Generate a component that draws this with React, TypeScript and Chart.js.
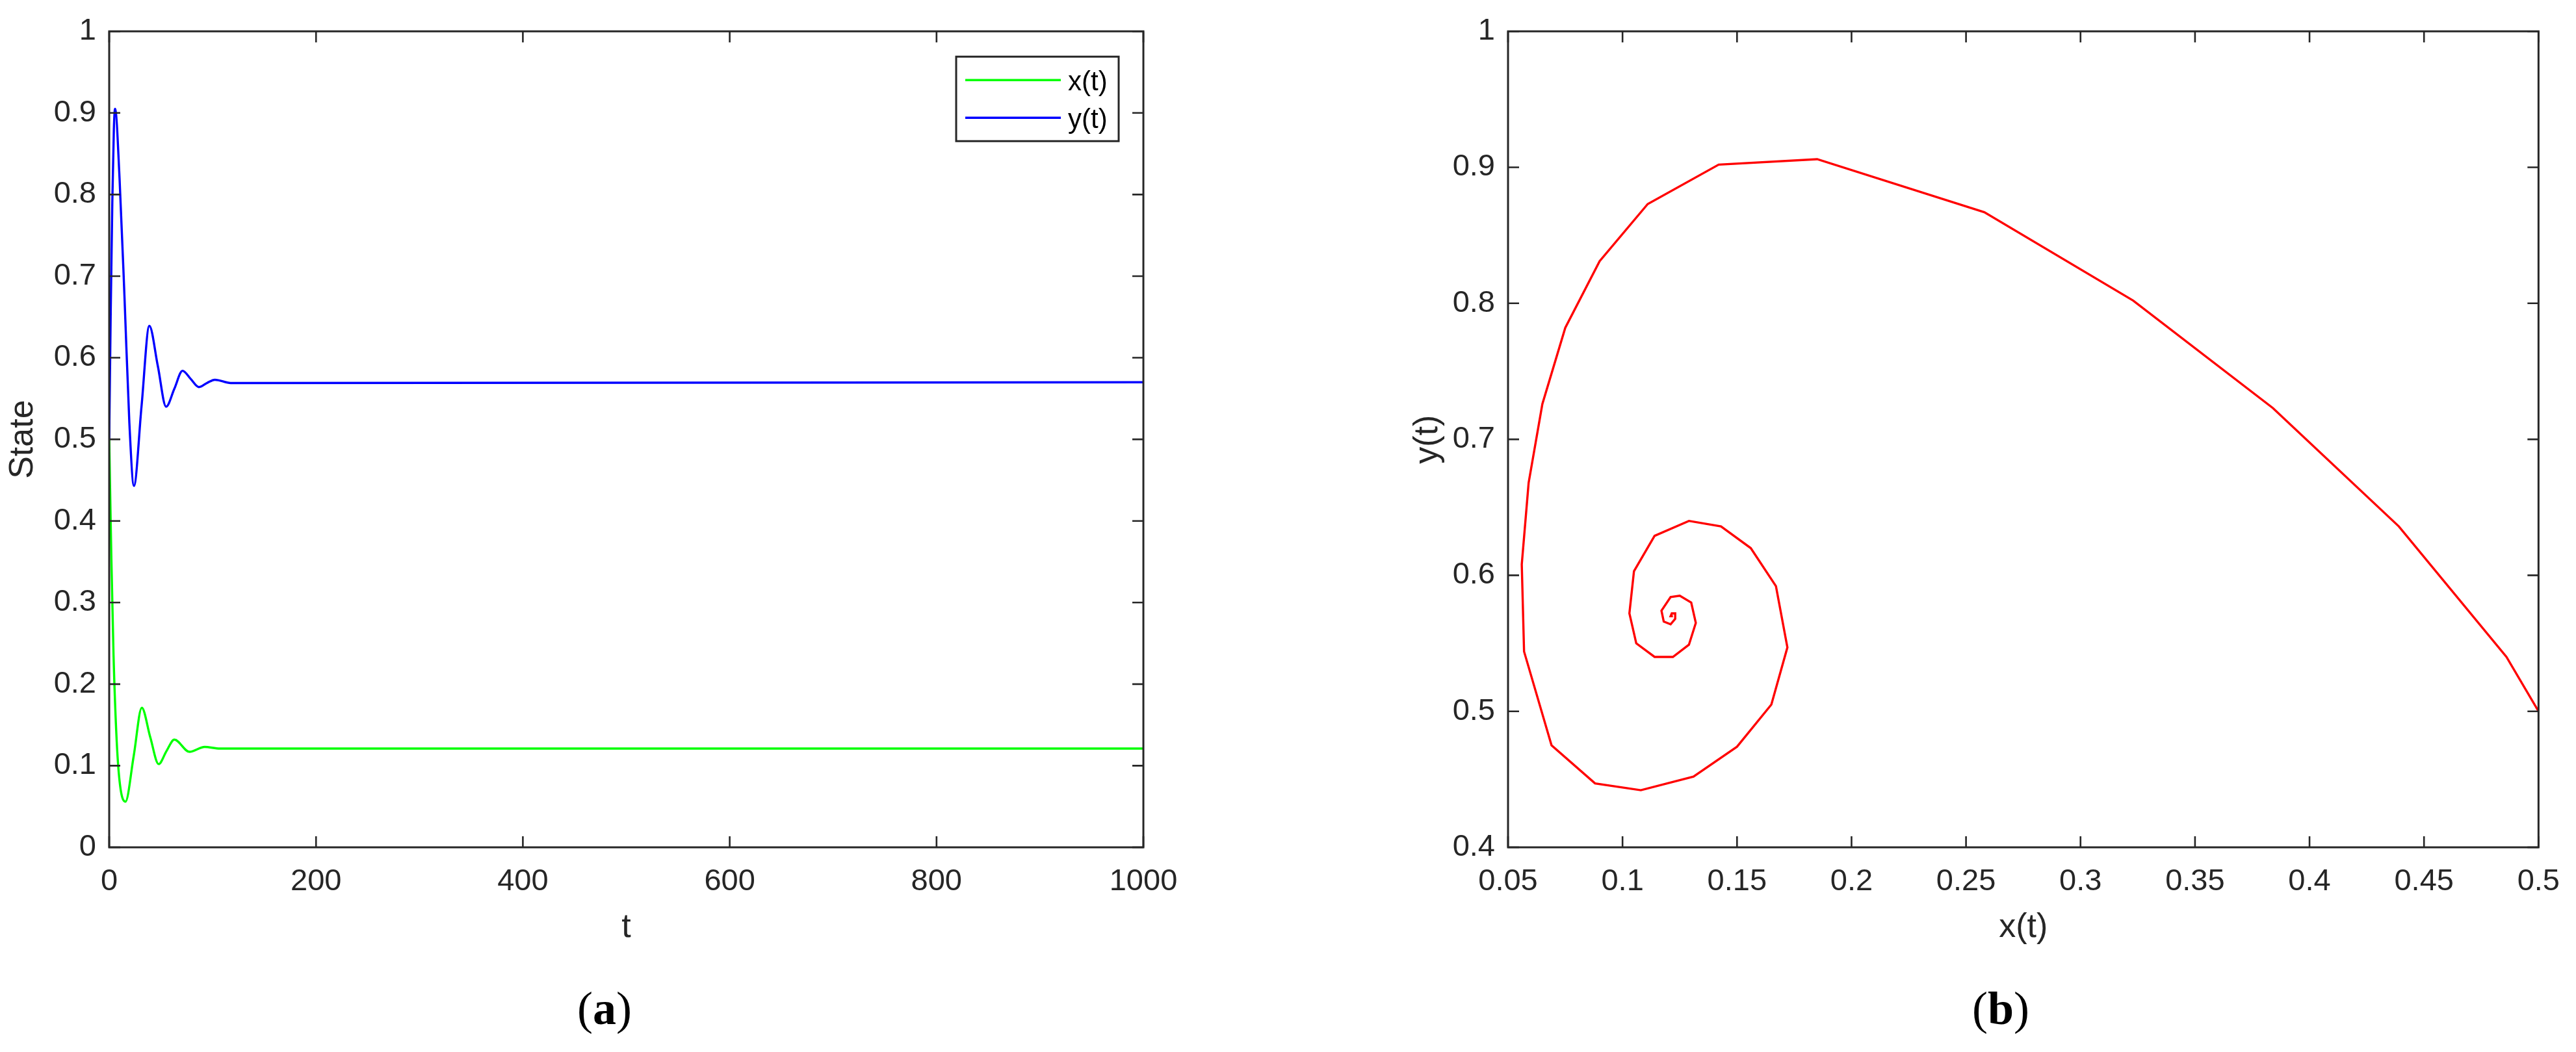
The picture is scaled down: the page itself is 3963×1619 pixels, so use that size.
import React, { useEffect, useRef } from "react";
import { Chart, registerables } from "chart.js";

Chart.register(...registerables);

// ---------- Data: panel (a) time series ----------
const timeX = [0, 2.1, 4.2, 7.3, 10.5, 15.7, 23.7, 31.5, 39.7, 47.8, 55.4, 63, 77.6, 92.3, 107, 1000];
const stateX = [0.5, 0.354, 0.235, 0.129, 0.076, 0.056, 0.112, 0.171, 0.135, 0.102, 0.118, 0.132, 0.117, 0.123, 0.121, 0.121];

const timeY = [0, 1.5, 3, 4.5, 5.7, 10, 14.8, 19.5, 23.9, 31.3, 38.8, 47, 55, 63, 70.9, 78.8, 86.7, 94.5, 102.2, 117.5, 1000];
const stateY = [0.5, 0.66, 0.79, 0.88, 0.905, 0.82, 0.674, 0.52, 0.443, 0.541, 0.639, 0.59, 0.54, 0.562, 0.584, 0.574, 0.564, 0.569, 0.573, 0.569, 0.57];

// ---------- Data: panel (b) phase portrait ----------
const phaseX = [0.5, 0.486, 0.439, 0.384, 0.323, 0.258, 0.185, 0.142, 0.111, 0.09, 0.075, 0.065, 0.059, 0.056, 0.057, 0.069, 0.088, 0.108, 0.131, 0.15, 0.165, 0.172, 0.167, 0.156, 0.143, 0.129, 0.114, 0.105, 0.103, 0.106, 0.114, 0.122, 0.129, 0.132, 0.13, 0.125, 0.121, 0.117, 0.118, 0.121, 0.123, 0.123, 0.1215, 0.121, 0.122];
const phaseY = [0.5, 0.54, 0.636, 0.723, 0.802, 0.867, 0.906, 0.902, 0.873, 0.831, 0.782, 0.726, 0.668, 0.608, 0.544, 0.475, 0.447, 0.442, 0.452, 0.474, 0.505, 0.547, 0.592, 0.62, 0.636, 0.64, 0.629, 0.603, 0.572, 0.55, 0.54, 0.54, 0.549, 0.565, 0.58, 0.585, 0.584, 0.574, 0.566, 0.564, 0.568, 0.572, 0.572, 0.57, 0.57];

// ---------- Ticks ----------
const ticksTime = [0, 200, 400, 600, 800, 1000];
const ticksState = [0, 0.1, 0.2, 0.3, 0.4, 0.5, 0.6, 0.7, 0.8, 0.9, 1];
const ticksPhaseX = [0.05, 0.1, 0.15, 0.2, 0.25, 0.3, 0.35, 0.4, 0.45, 0.5];
const ticksPhaseY = [0.4, 0.5, 0.6, 0.7, 0.8, 0.9, 1];

// ---------- Styles ----------
const FONT = "'Liberation Sans', Arial, Helvetica, sans-serif";
const AXIS_COLOR = "#262626";
const TICK_FONT = 47;
const LABEL_FONT = 52;
const LEGEND_FONT = 42;
const TICK_LEN = 17;
const BOX_W = 3;
const LINE_W = 3.4;

Chart.defaults.font.family = FONT;

const matlabAxes = {
  id: "matlabAxes",
  afterDatasetsDraw(chart: any) {
    const { ctx, chartArea: a, scales } = chart;
    const xs = scales.x;
    const ys = scales.y;
    ctx.save();
    ctx.strokeStyle = AXIS_COLOR;
    ctx.lineWidth = 2.6;
    ctx.beginPath();
    xs.ticks.forEach((t: any) => {
      const px = xs.getPixelForValue(t.value);
      ctx.moveTo(px, a.bottom);
      ctx.lineTo(px, a.bottom - TICK_LEN);
      ctx.moveTo(px, a.top);
      ctx.lineTo(px, a.top + TICK_LEN);
    });
    ys.ticks.forEach((t: any) => {
      const py = ys.getPixelForValue(t.value);
      ctx.moveTo(a.left, py);
      ctx.lineTo(a.left + TICK_LEN, py);
      ctx.moveTo(a.right, py);
      ctx.lineTo(a.right - TICK_LEN, py);
    });
    ctx.stroke();
    ctx.lineWidth = BOX_W;
    ctx.strokeRect(a.left, a.top, a.right - a.left, a.bottom - a.top);
    ctx.restore();
  },
};

const boxLegend = {
  id: "boxLegend",
  afterDraw(chart: any, _args: any, opts: any) {
    if (!opts || !opts.show) return;
    const { ctx, chartArea: a } = chart;
    const w = 250;
    const h = 130;
    const left = a.right - 38 - w;
    const top = a.top + 39;
    ctx.save();
    ctx.fillStyle = "#ffffff";
    ctx.fillRect(left, top, w, h);
    ctx.strokeStyle = AXIS_COLOR;
    ctx.lineWidth = BOX_W;
    ctx.strokeRect(left, top, w, h);
    const rows = [top + 36, top + 94];
    chart.data.datasets.forEach((ds: any, i: number) => {
      const y = rows[i];
      ctx.strokeStyle = ds.borderColor;
      ctx.lineWidth = LINE_W;
      ctx.beginPath();
      ctx.moveTo(left + 14, y);
      ctx.lineTo(left + 161, y);
      ctx.stroke();
      ctx.fillStyle = "#000000";
      ctx.font = `${LEGEND_FONT}px ${FONT}`;
      ctx.textAlign = "left";
      ctx.textBaseline = "middle";
      ctx.fillText(ds.label, left + 172, y + 4);
    });
    ctx.restore();
  },
};

function axisCommon(ticks: number[], min: number, max: number, title: string, titlePad: any, tickPad: number, fixedSize: number, horizontal: boolean) {
  return {
    type: "linear",
    min,
    max,
    afterBuildTicks: (scale: any) => {
      scale.ticks = ticks.map((v) => ({ value: v }));
    },
    afterFit: (scale: any) => {
      if (horizontal) scale.height = fixedSize;
      else scale.width = fixedSize;
    },
    grid: { display: false, drawTicks: false },
    border: { display: false },
    ticks: {
      autoSkip: false,
      maxRotation: 0,
      minRotation: 0,
      padding: tickPad,
      color: AXIS_COLOR,
      font: { size: TICK_FONT, family: FONT },
      callback: (v: any) => String(v),
    },
    title: {
      display: true,
      text: title,
      color: AXIS_COLOR,
      font: { size: LABEL_FONT, family: FONT },
      padding: titlePad,
    },
  };
}

function makeLeftConfig(): any {
  return {
    type: "line",
    data: {
      datasets: [
        {
          label: "x(t)",
          data: timeX.map((t, i) => ({ x: t, y: stateX[i] })),
          borderColor: "#00ff00",
          borderWidth: LINE_W,
          pointRadius: 0,
          cubicInterpolationMode: "monotone",
          fill: false,
          order: 1,
        },
        {
          label: "y(t)",
          data: timeY.map((t, i) => ({ x: t, y: stateY[i] })),
          borderColor: "#0000ff",
          borderWidth: LINE_W,
          pointRadius: 0,
          cubicInterpolationMode: "monotone",
          fill: false,
          order: 0,
        },
      ],
    },
    options: {
      responsive: false,
      devicePixelRatio: 1,
      animation: false,
      layout: { padding: { left: 0, top: 48, right: 222, bottom: 155 } },
      plugins: { legend: { display: false }, tooltip: { enabled: false }, boxLegend: { show: true } },
      scales: {
        x: axisCommon(ticksTime, 0, 1000, "t", { top: 0, bottom: 5 }, 25, 160, true),
        y: axisCommon(ticksState, 0, 1, "State", { top: 4, bottom: 0 }, 20, 168, false),
      },
    },
    plugins: [matlabAxes, boxLegend],
  };
}

function makeRightConfig(): any {
  return {
    type: "line",
    data: {
      datasets: [
        {
          label: "trajectory",
          data: phaseX.map((x, i) => ({ x, y: phaseY[i] })),
          borderColor: "#ff0000",
          borderWidth: LINE_W,
          pointRadius: 0,
          tension: 0,
          fill: false,
        },
      ],
    },
    options: {
      responsive: false,
      devicePixelRatio: 1,
      animation: false,
      layout: { padding: { left: 0, top: 48, right: 55, bottom: 155 } },
      plugins: { legend: { display: false }, tooltip: { enabled: false }, boxLegend: { show: false } },
      scales: {
        x: axisCommon(ticksPhaseX, 0.05, 0.5, "x(t)", { top: 0, bottom: 5 }, 25, 160, true),
        y: axisCommon(ticksPhaseY, 0.4, 1, "y(t)", { top: 184, bottom: 0 }, 20, 339, false),
      },
    },
    plugins: [matlabAxes, boxLegend],
  };
}

function ChartCanvas(props: { make: () => any; left: number; width: number; height: number }) {
  const ref = useRef<HTMLCanvasElement | null>(null);
  useEffect(() => {
    if (!ref.current) return;
    const chart = new Chart(ref.current, props.make());
    return () => chart.destroy();
  }, []);
  return (
    <canvas
      ref={ref}
      width={props.width}
      height={props.height}
      style={{ position: "absolute", left: props.left, top: 0, width: props.width, height: props.height }}
    />
  );
}

const captionStyle: React.CSSProperties = {
  position: "absolute",
  top: 1552,
  transform: "translate(-50%, -50%)",
  fontFamily: "'Liberation Serif', 'Times New Roman', serif",
  fontSize: 72,
  color: "#000",
  whiteSpace: "nowrap",
  lineHeight: 1,
};

export default function App() {
  return (
    <div style={{ position: "absolute", left: 0, top: 0, width: 3963, height: 1619, background: "#fff", overflow: "hidden" }}>
      <ChartCanvas make={makeLeftConfig} left={0} width={1981} height={1619} />
      <ChartCanvas make={makeRightConfig} left={1981} width={1982} height={1619} />
      <div style={{ ...captionStyle, left: 930 }}>
        (<b>a</b>)
      </div>
      <div style={{ ...captionStyle, left: 3078 }}>
        (<b>b</b>)
      </div>
    </div>
  );
}
